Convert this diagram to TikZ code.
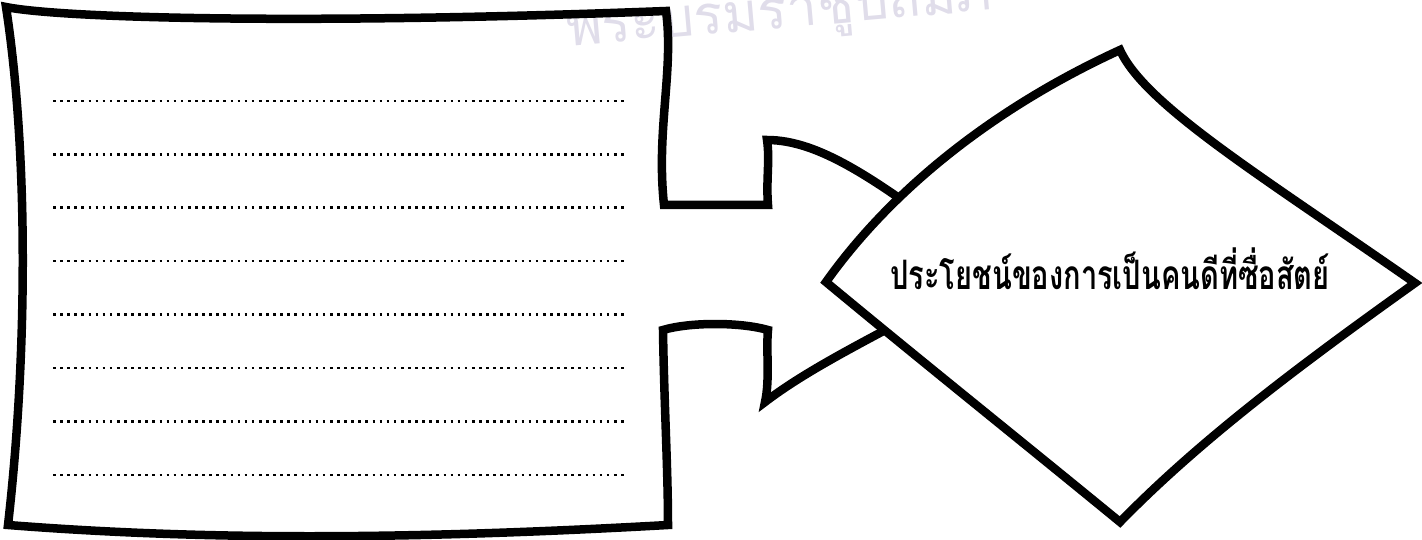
\documentclass[tikz,border=0pt]{standalone}
\usepackage{fontspec}
\newfontfamily\thaifont[Script=Thai]{Loma}
\definecolor{sealgray}{RGB}{224,221,234}
\begin{document}
\begin{tikzpicture}
[x=1pt,y=-1pt,
  boxdecorate/.style={line width=8.5pt,line join=miter,draw=black},%
  diamonddecorate/.style={line width=8.5pt,line join=miter,draw=black,fill=white},%
  dotdecorate/.style={line width=2.6pt,dash pattern=on 2.6pt off 4.5pt}]
\useasboundingbox (0,0) rectangle (1422,540);
%% faded seal text at the top
\begin{scope}
  \clip (0,0) rectangle (1422,540);
  \node (seal) [anchor=base west,rotate=5,text=sealgray,inner sep=0pt]
    at (568,47) {\thaifont\fontsize{54}{60}\selectfont พระบรมราชูปถัมภ์};
\end{scope}
%% corner points
\foreach \nodename/\x/\y in {tl/6/7, tr/666/11, nu/664/205, ni/768/205,
  au/767/140, tip/995/270, ad/765/402, ni2/768/330, nd/663/330,
  br/668/525, bl/8/525}
{
  \coordinate (\nodename) at (\x,\y);
}
%% box with the arrow
\draw[boxdecorate] (tl) .. controls (60,18) and (300,25) .. (tr)
  .. controls (674,70) and (656,130) .. (nu) -- (ni)
  .. controls (766,180) and (770,160) .. (au)
  .. controls (820,140) and (880,180) .. (tip)
  .. controls (900,325) and (820,360) .. (ad)
  .. controls (770,380) and (766,350) .. (ni2)
  .. controls (740,322) and (690,322) .. (nd)
  .. controls (664,400) and (668,470) .. (br)
  .. controls (400,540) and (200,540) .. (bl)
  .. controls (28,350) and (28,150) .. (tl) -- cycle;
%% lines to write on
\foreach \row in {0,...,7}
{
  \draw[dotdecorate] (53,101+53.4*\row) -- (628,101+53.4*\row);
}
%% diamond
\foreach \nodename/\x/\y in {dt/1120/50, dr/1415/283, db/1120/522, dl/826/282}
{
  \coordinate (\nodename) at (\x,\y);
}
\draw[diamonddecorate] (dl) .. controls (895,185) and (1000,105) .. (dt)
  .. controls (1145,105) and (1260,175) .. (dr)
  .. controls (1300,365) and (1200,440) .. (db)
  .. controls (1020,440) and (920,360) .. (dl) -- cycle;
\node (title) [anchor=base,inner sep=0pt] at (1110,290)
  {\scalebox{1}[1.4]{\thaifont\bfseries\fontsize{29}{34}\selectfont ประโยชน์ของการเป็นคนดีที่ซื่อสัตย์}};
\end{tikzpicture}
\end{document}
